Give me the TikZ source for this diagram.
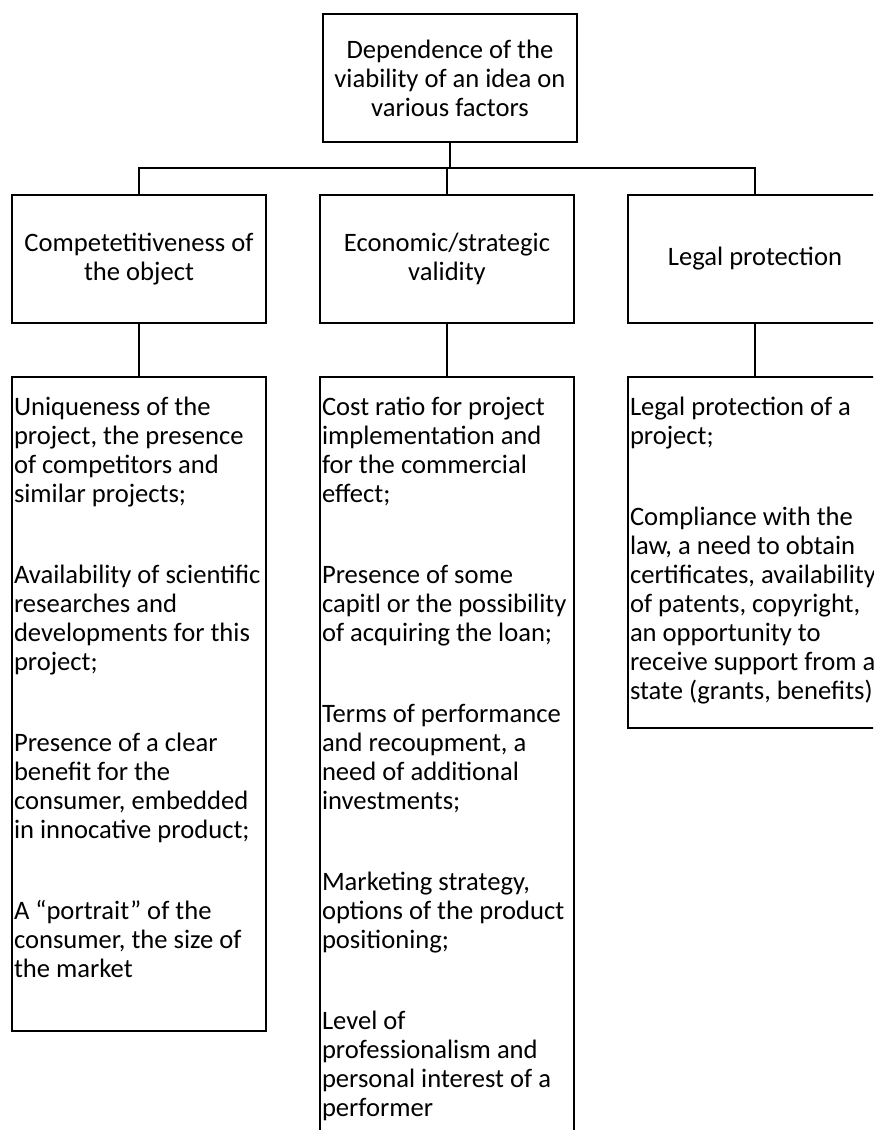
\documentclass[tikz,border=0pt]{standalone}
\usepackage{fontspec}
\setmainfont{Carlito}
\usetikzlibrary{positioning}

\newcommand{\itemgap}{\\[26pt]}
\newcommand{\listtext}[2]{\parbox[t][#1][t]{125pt}{\rule{0pt}{19pt}#2}}

\begin{document}
\begin{tikzpicture}[x=0.5pt,y=-0.5pt,
  every node/.style={font=\fontsize{13.3}{14.5}\selectfont},
  head/.style={draw,line width=1pt,minimum width=127pt,minimum height=64pt,
    text width=125pt,align=flush center,inner sep=0pt},
  listbox/.style={draw,line width=1pt,anchor=north,inner xsep=1pt,inner ysep=0pt,
    align=flush left}]
  \useasboundingbox (0,0) rectangle (873,1130);
  \clip (0,0) rectangle (873,1130);

  \node[head] (top) at (450,78) {Dependence of the\\ viability of an idea on\\ various factors};

  \node[head] (compet) at (139,259) {Competetitiveness of\\ the object};
  \node[head] (econ) at (447,259) {Economic/strategic\\ validity};
  \node[head] (legal) at (755,259) {Legal protection};

  \coordinate (bar) at (450,168);
  \draw[line width=1pt] (top.south) -- (bar);
  \draw[line width=1pt] (compet.north) |- (bar) -| (legal.north);
  \draw[line width=1pt] (econ.north) -- (econ.north |- bar);

  \node[listbox] (competlist) at (139,376) {\listtext{327pt}{%
    Uniqueness of the\\ project, the presence\\ of competitors and\\ similar projects;\itemgap
    Availability of scientific\\ researches and\\ developments for this\\ project;\itemgap
    Presence of a clear\\ benefit for the\\ consumer, embedded\\ in innocative product;\itemgap
    A “portrait” of the\\ consumer, the size of\\ the market}};

  \node[listbox] (econlist) at (447,376) {\listtext{400pt}{%
    Cost ratio for project\\ implementation and\\ for the commercial\\ effect;\itemgap
    Presence of some\\ capitl or the possibility\\ of acquiring the loan;\itemgap
    Terms of performance\\ and recoupment, a\\ need of additional\\ investments;\itemgap
    Marketing strategy,\\ options of the product\\ positioning;\itemgap
    Level of\\ professionalism and\\ personal interest of a\\ performer}};

  \node[listbox] (legallist) at (755,376) {\listtext{175.5pt}{%
    Legal protection of a\\ project;\itemgap
    Compliance with the\\ law, a need to obtain\\ certificates, availability\\ of patents, copyright,\\
    an opportunity to\\ receive support from a\\ state (grants, benefits)}};

  \foreach \a/\b in {compet/competlist,econ/econlist,legal/legallist}
    \draw[line width=1pt] (\a.south) -- (\b.north);
\end{tikzpicture}
\end{document}
